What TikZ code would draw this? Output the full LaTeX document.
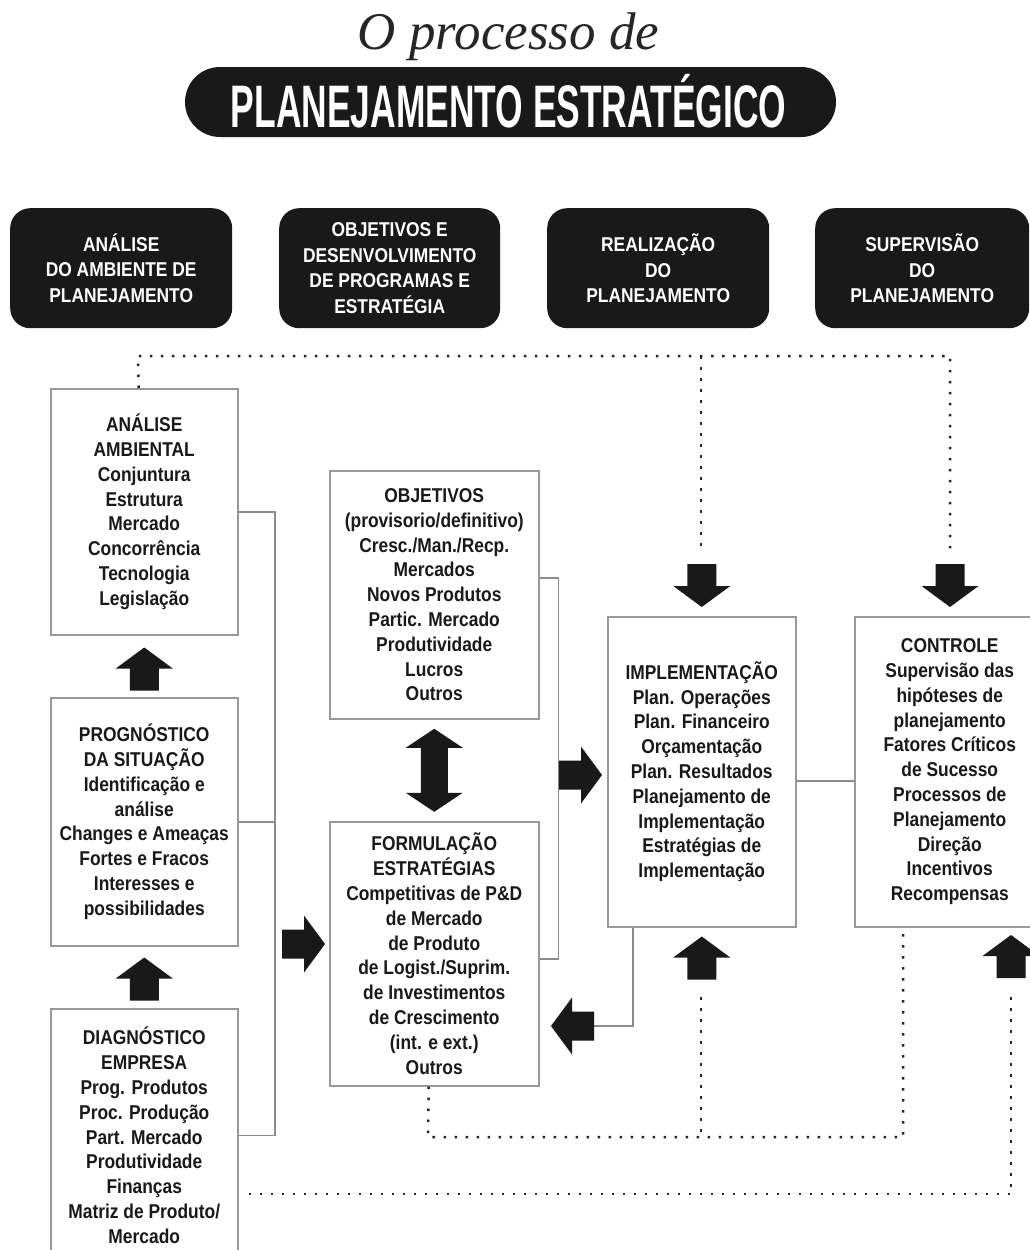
\documentclass[tikz,border=0pt]{standalone}
\usepackage{fontspec}
\setmainfont{Liberation Sans}
\newfontfamily\bodyfont[FakeStretch=0.87]{Liberation Sans}
\newfontfamily\titlefont[FakeStretch=0.59]{Liberation Sans}
\newfontfamily\serifit{Liberation Serif}
\usetikzlibrary{calc}
\begin{document}
\begin{tikzpicture}[x=1pt,y=-1pt,
  hdr/.style={fill=black!90, rounded corners=20pt, inner sep=0pt, anchor=north west,
    text=white, align=center, font=\bodyfont\bfseries\fontsize{20}{25.5}\selectfont},
  wbox/.style={draw=black!40, line width=1.5pt, fill=white, inner sep=0pt, anchor=north west,
    align=center, text=black!90, font=\bodyfont\bfseries\fontsize{20}{24.8}\selectfont},
  conn/.style={draw=black!45, line width=1.5pt},
  dotl/.style={draw=black!85, line width=2.5pt, dash pattern=on 2.5pt off 8.5pt},
  pics/barrow/.style={code={\fill[black!90] (0,0) -- (-21,28.5) -- (-21,14.5) -- (-43,14.5)
    -- (-43,-14.5) -- (-21,-14.5) -- (-21,-28.5) -- cycle;}},
  pics/dblarrow/.style={code={\fill[black!90] (0,-41.5) -- (28.5,-22.5) -- (13.5,-22.5)
    -- (13.5,22.5) -- (28.5,22.5) -- (0,41.5) -- (-28.5,22.5) -- (-13.5,22.5)
    -- (-13.5,-22.5) -- (-28.5,-22.5) -- cycle;}},
]
\fill[white] (0,0) rectangle (1030,1250);
\useasboundingbox (0,0) rectangle (1030,1250);

% title
\node[anchor=base, font=\serifit\itshape\fontsize{53}{53}\selectfont, text=black!85]
  (sub) at (508.5,49) {O processo de};
\node[fill=black!90, rounded corners=35pt, minimum width=651pt, minimum height=70pt, inner sep=0pt]
  (titlebar) at (510.5,102) {};
\node[anchor=base, text=white, inner sep=0pt, font=\titlefont\bfseries\fontsize{60}{60}\selectfont]
  (titletext) at (508.5,127) {PLANEJAMENTO ESTRATÉGICO};

% header boxes
\node[hdr, minimum width=222pt, minimum height=120pt] (h1) at (10,208)
  {ANÁLISE\\DO AMBIENTE DE\\PLANEJAMENTO};
\node[hdr, minimum width=221pt, minimum height=120pt] (h2) at (279,208)
  {OBJETIVOS E\\DESENVOLVIMENTO\\DE PROGRAMAS E\\ESTRATÉGIA};
\node[hdr, minimum width=222pt, minimum height=120pt] (h3) at (547,208)
  {REALIZAÇÃO\\DO\\PLANEJAMENTO};
\node[hdr, minimum width=214pt, minimum height=120pt] (h4) at (815,208)
  {SUPERVISÃO\\DO\\PLANEJAMENTO};

% content boxes
\node[wbox, minimum width=187pt, minimum height=246pt] (aa) at (50,388)
  {ANÁLISE\\AMBIENTAL\\Conjuntura\\Estrutura\\Mercado\\Concorrência\\Tecnologia\\Legislação};
\node[wbox, minimum width=187pt, minimum height=248pt] (pg) at (50,697)
  {PROGNÓSTICO\\DA SITUAÇÃO\\Identificação e\\análise\\Changes e Ameaças\\Fortes e Fracos\\Interesses e\\possibilidades};
\node[wbox, minimum width=187pt, minimum height=253pt] (dg) at (50,1008)
  {DIAGNÓSTICO\\EMPRESA\\Prog. Produtos\\Proc. Produção\\Part. Mercado\\Produtividade\\Finanças\\Matriz de Produto/\\Mercado};
\node[wbox, minimum width=209pt, minimum height=248pt] (ob) at (329,470)
  {OBJETIVOS\\(provisorio/definitivo)\\Cresc./Man./Recp.\\Mercados\\Novos Produtos\\Partic. Mercado\\Produtividade\\Lucros\\Outros};
\node[wbox, minimum width=209pt, minimum height=264pt] (fm) at (329,821)
  {FORMULAÇÃO\\ESTRATÉGIAS\\Competitivas de P\&D\\de Mercado\\de Produto\\de Logist./Suprim.\\de Investimentos\\de Crescimento\\(int. e ext.)\\Outros};
\node[wbox, minimum width=188pt, minimum height=310pt] (im) at (607,616)
  {IMPLEMENTAÇÃO\\Plan. Operações\\Plan. Financeiro\\Orçamentação\\Plan. Resultados\\Planejamento de\\Implementação\\Estratégias de\\Implementação};
\node[wbox, minimum width=190pt, minimum height=310pt] (ct) at (854,616)
  {CONTROLE\\Supervisão das\\hipóteses de\\planejamento\\Fatores Críticos\\de Sucesso\\Processos de\\Planejamento\\Direção\\Incentivos\\Recompensas};

% solid connectors
\coordinate (lb) at (275,0);
\draw[conn] (aa.east) -- (aa.east -| lb) -- (lb |- dg.east) -- (dg.east);
\draw[conn] (pg.east) -- (pg.east -| lb);
\draw[conn] ([yshift=17pt]ob.east) -- ++(19,0) |- ([yshift=-5pt]fm.east);
\draw[conn] ([yshift=-9pt]im.east) -- ([yshift=-9pt]ct.west);
\coordinate (laTail) at (593,1026);
\draw[conn] ([xshift=-69pt]im.south) |- (laTail);

% block arrows
\pic[rotate=90] at ($(aa.south)+(0,12)$) {barrow};
\pic[rotate=90] at ($(pg.south)+(0,11)$) {barrow};
\coordinate (raFM) at (325,944);
\pic at (raFM) {barrow};
\coordinate (raIM) at (602,775);
\pic at (raIM) {barrow};
\coordinate (laFM) at (551,1026);
\pic[rotate=180] at (laFM) {barrow};
\pic[rotate=-90] at ($(im.north)+(0,-9)$) {barrow};
\coordinate (daCT) at (950,607);
\pic[rotate=-90] at (daCT) {barrow};
\pic[rotate=90] at ($(im.south)+(0,9)$) {barrow};
\coordinate (uaCT) at (1011,935);
\pic[rotate=90] at (uaCT) {barrow};
\pic at ($(ob.south)!0.5!(fm.north)$) {dblarrow};

% dotted feedback lines
\coordinate (dTL) at (138,356);
\coordinate (dTM) at (701,356);
\coordinate (dTR) at (950,356);
\coordinate (eIM) at (701,553);
\coordinate (eCT) at (950,553);
\draw[dotl] ([xshift=-5.5pt]aa.north) -- (dTL) -- (dTR) -- (eCT);
\draw[dotl] (dTM) -- (eIM);
\coordinate (dB1) at (428,1137);
\coordinate (dB2) at (903,1137);
\coordinate (sIM) at (701,997);
\coordinate (sCT) at (1011,997);
\coordinate (dC) at (1011,1194);
\coordinate (dEnd) at (249,1194);
\draw[dotl] ([xshift=-5.5pt]fm.south) -- (dB1) -- (dB2) -- (ct.south -| dB2);
\draw[dotl] (sIM) -- (sIM |- dB1);
\draw[dotl] (sCT) -- (dC) -- (dEnd);
\end{tikzpicture}
\end{document}
